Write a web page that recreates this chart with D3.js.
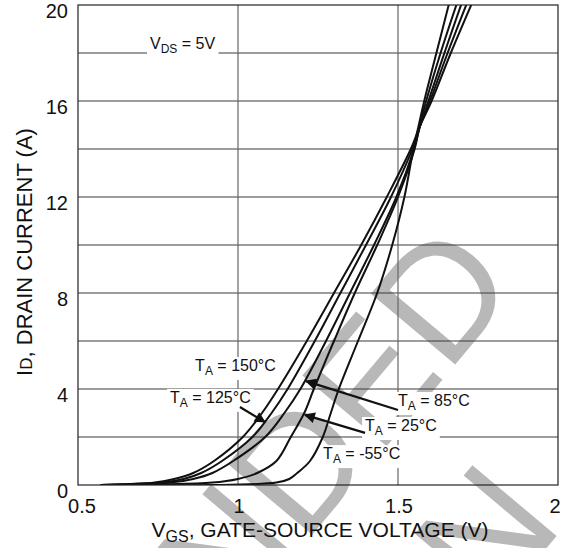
<!DOCTYPE html>
<html>
<head>
<meta charset="utf-8">
<script src="https://cdnjs.cloudflare.com/ajax/libs/d3/7.8.5/d3.min.js"></script>
<style>
  body { margin: 0; background: #fff; }
  text { font-family: "Liberation Sans", Arial, sans-serif; fill: #111; }
</style>
</head>
<body>
<div class="canvas"></div>
<script>
const idLevels = [0, 0.1, 0.25, 0.5, 1, 2, 3, 4, 6, 8, 10, 12, 14, 15, 16, 18, 20.5];

// VGS (V) of each temperature curve at those levels
const vgs150 = [0.57, 0.74, 0.80, 0.86, 0.925, 1.015, 1.075, 1.125, 1.215, 1.30, 1.385, 1.465, 1.54, 1.57, 1.605, 1.665, 1.745];
const vgs125 = [0.57, 0.76, 0.83, 0.885, 0.95, 1.045, 1.105, 1.155, 1.24, 1.32, 1.40, 1.478, 1.545, 1.57, 1.60, 1.655, 1.728];
const vgs85  = [0.57, 0.79, 0.86, 0.92, 0.985, 1.085, 1.145, 1.195, 1.275, 1.35, 1.425, 1.495, 1.55, 1.57, 1.595, 1.645, 1.71];
const vgs25  = [0.57, 0.92, 1.00, 1.06, 1.12, 1.165, 1.207, 1.237, 1.30, 1.365, 1.435, 1.50, 1.552, 1.568, 1.588, 1.633, 1.695];
const vgsM55 = [0.57, 1.12, 1.16, 1.185, 1.225, 1.265, 1.29, 1.315, 1.375, 1.435, 1.482, 1.52, 1.548, 1.565, 1.582, 1.62, 1.668];

const xTicks = [0.5, 1, 1.5, 2];
const yTicks = [0, 4, 8, 12, 16, 20];
const yGrid = [2, 4, 6, 8, 10, 12, 14, 16, 18];
const xGrid = [1, 1.5];

const series = [vgs150, vgs125, vgs85, vgs25, vgsM55];

const svg = d3.select(".canvas")
    .append('svg')
    .attr('width', 569)
    .attr('height', 548);

const margins = {top: 5, left: 78, right: 11, bottom: 63};
const graphWidth = 569 - margins.left - margins.right;
const graphHeight = 548 - margins.top - margins.bottom;

// watermark, drawn first so everything sits on top of it
const wm = svg.append('g')
    .style('font-family', '"Liberation Sans", Arial, sans-serif')
    .style('font-size', '160px');
wm.append('text')
    .attr('transform', 'translate(521,286) rotate(-50)')
    .attr('text-anchor', 'end')
    .style('fill', '#b8b8b8')
    .text('NOT RECOMMENDED');
wm.append('text')
    .attr('transform', 'translate(565,526) rotate(-50)')
    .attr('text-anchor', 'end')
    .style('fill', '#b8b8b8')
    .text('FOR NEW DESIGN');

const graph = svg.append('g')
    .attr('transform', 'translate(' + margins.left + ',' + margins.top + ')');

const x = d3.scaleLinear().domain([0.5, 2]).range([0, graphWidth]);
const y = d3.scaleLinear().domain([0, 20]).range([graphHeight, 0]);

// grid
graph.selectAll('.hgrid').data(yGrid).enter().append('line')
    .attr('x1', 0).attr('x2', graphWidth)
    .attr('y1', d => y(d)).attr('y2', d => y(d))
    .attr('stroke', '#3a3a3a').attr('stroke-width', 1);
graph.selectAll('.vgrid').data(xGrid).enter().append('line')
    .attr('y1', 0).attr('y2', graphHeight)
    .attr('x1', d => x(d)).attr('x2', d => x(d))
    .attr('stroke', '#666').attr('stroke-width', 1.2);

// labels with white boxes behind them
function label(vx, iy, main, sub, rest) {
    const g = graph.append('g');
    const t = g.append('text')
        .attr('x', x(vx)).attr('y', y(iy))
        .style('font-size', '16px');
    t.append('tspan').text(main);
    t.append('tspan').attr('dy', 4).style('font-size', '12px').text(sub);
    t.append('tspan').attr('dy', -4).text(rest);
    const b = t.node().getBBox();
    g.insert('rect', 'text')
        .attr('x', b.x - 3).attr('y', b.y)
        .attr('width', b.width + 6).attr('height', b.height + 2)
        .attr('fill', '#fff');
}

label(0.725, 18.17, 'V', 'DS', ' = 5V');

svg.append('clipPath').attr('id', 'plotclip')
    .append('rect').attr('width', graphWidth).attr('height', graphHeight);

const line = d3.line()
    .x(d => x(d[0]))
    .y(d => y(d[1]))
    .curve(d3.curveCatmullRom.alpha(0.5));

graph.append('g').attr('clip-path', 'url(#plotclip)')
    .selectAll('path').data(series).enter().append('path')
    .attr('d', s => line(s.map((v, k) => [v, idLevels[k]])))
    .attr('fill', 'none')
    .attr('stroke', '#111')
    .attr('stroke-width', 2)
    .attr('stroke-linejoin', 'round');

label(0.866, 4.75, 'T', 'A', ' = 150°C');
label(0.7875, 3.42, 'T', 'A', ' = 125°C');
label(1.5, 3.29, 'T', 'A', ' = 85°C');
label(1.397, 2.25, 'T', 'A', ' = 25°C');
label(1.266, 1.08, 'T', 'A', ' = -55°C');

// arrows
svg.append('defs').append('marker')
    .attr('id', 'head').attr('viewBox', '0 0 10 10')
    .attr('refX', 9).attr('refY', 5)
    .attr('markerWidth', 15).attr('markerHeight', 11)
    .attr('markerUnits', 'userSpaceOnUse')
    .attr('orient', 'auto')
    .append('path').attr('d', 'M0,0 L10,5 L0,10 z').attr('fill', '#111');

const arrows = [
    [1.006, 3.25, 1.084, 2.625],
    [1.5, 3.125, 1.2125, 4.33],
    [1.397, 2.17, 1.209, 2.92]
];
graph.selectAll('.arrow').data(arrows).enter().append('line')
    .attr('x1', d => x(d[0])).attr('y1', d => y(d[1]))
    .attr('x2', d => x(d[2])).attr('y2', d => y(d[3]))
    .attr('stroke', '#111').attr('stroke-width', 2.2)
    .attr('marker-end', 'url(#head)');

// frame
graph.append('rect')
    .attr('width', graphWidth).attr('height', graphHeight)
    .attr('fill', 'none').attr('stroke', '#222').attr('stroke-width', 1.2);

// tick labels
graph.selectAll('.xt').data(xTicks).enter().append('text')
    .attr('x', d => x(d) + (d === 0.5 ? 4 : (d === 2 ? -3 : 1))).attr('y', graphHeight + 28)
    .attr('text-anchor', 'middle')
    .style('font-size', '20px')
    .text(d => d);
graph.selectAll('.yt').data(yTicks).enter().append('text')
    .attr('x', -10).attr('y', d => y(d) + 13)
    .attr('text-anchor', 'end')
    .style('font-size', '20px')
    .text(d => d);

// axis titles
const xt = svg.append('text')
    .attr('x', 320).attr('y', 537)
    .attr('text-anchor', 'middle')
    .style('font-size', '21px');
xt.append('tspan').text('V');
xt.append('tspan').attr('dy', 5).style('font-size', '16px').text('GS');
xt.append('tspan').attr('dy', -5).text(', GATE-SOURCE VOLTAGE (V)');

const yt = svg.append('text')
    .attr('transform', 'translate(32,252) rotate(-90)')
    .attr('text-anchor', 'middle')
    .style('font-size', '22px');
yt.append('tspan').text('I');
yt.append('tspan').style('font-size', '17px').text('D');
yt.append('tspan').text(', DRAIN CURRENT (A)');
</script>
</body>
</html>
